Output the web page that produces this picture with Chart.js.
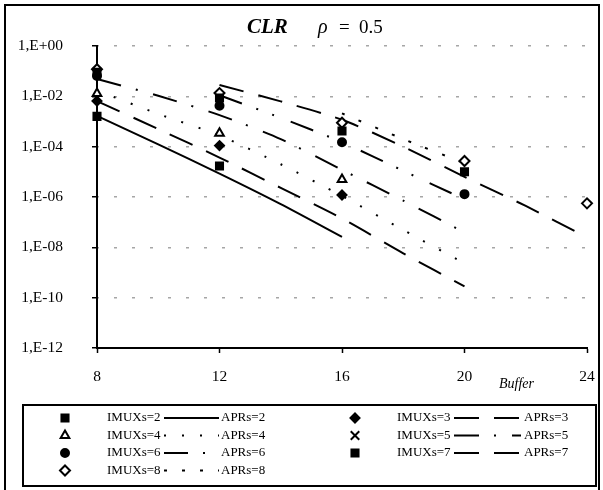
<!DOCTYPE html>
<html>
<head>
<meta charset="utf-8">
<script src="https://cdn.jsdelivr.net/npm/chart.js@4.4.1/dist/chart.umd.min.js"></script>
<style>
  html, body { margin: 0; padding: 0; background: #fff; }
</style>
</head>
<body>
<canvas id="g_clr" width="603" height="490"></canvas>
<script>
// axis ticks
var xTicks = [8, 12, 16, 20, 24];
var yTicks = [1, 1e-2, 1e-4, 1e-6, 1e-8, 1e-10, 1e-12];

// simulated points (IMUXs)
var imux2Buf = [8, 12];
var imux2Val = [1.6e-3, 1.7e-5];
var imux3Buf = [8, 12, 16];
var imux3Val = [6.5e-3, 1.1e-4, 1.2e-6];
var imux4Buf = [8, 12, 16];
var imux4Val = [1.3e-2, 3.4e-4, 5e-6];
var imux5Buf = [];
var imux5Val = [];
var imux6Buf = [8, 12, 16, 20];
var imux6Val = [6.5e-2, 4.2e-3, 1.5e-4, 1.3e-6];
var imux7Buf = [8, 12, 16, 20];
var imux7Val = [9e-2, 8.6e-3, 4.2e-4, 1.0e-5];
var imux8Buf = [8, 12, 16, 20, 24];
var imux8Val = [1.2e-1, 1.35e-2, 8.9e-4, 2.7e-5, 5.6e-7];

// analytic curves (APRs)
var apr2Buf = [8, 10, 12, 14, 16];
var apr2Val = [1.66e-3, 1.23e-4, 8.5e-6, 5.2e-7, 2.6e-8];
var apr3Buf = [8, 10, 12, 14, 16, 18, 20];
var apr3Val = [6.5e-3, 5e-4, 3.7e-5, 2.3e-6, 1.4e-7, 5.8e-9, 2.8e-10];
var apr4Buf = [8, 10, 12, 14, 16, 18, 20];
var apr4Val = [1.7e-2, 2e-3, 2.8e-4, 2e-5, 1.1e-6, 4.9e-8, 2.3e-9];
var apr5Buf = [8, 10, 12, 14, 16, 18, 20];
var apr5Val = [4.9e-2, 1.05e-2, 1.8e-3, 2e-4, 1.2e-5, 7.2e-7, 3.9e-8];
var apr6Buf = [12, 14, 16, 18, 20];
var apr6Val = [1.1e-2, 1.4e-3, 1.5e-4, 1.1e-5, 8.1e-7];
var apr7Buf = [12, 14, 16, 18, 20, 22, 24];
var apr7Val = [2.8e-2, 6.3e-3, 1.17e-3, 1e-4, 6.3e-6, 4.4e-7, 2.5e-8];
var apr8Buf = [16, 18, 20];
var apr8Val = [2.1e-3, 2e-4, 2.2e-5];

var serif = '"Liberation Serif", "Times New Roman", serif';

function pts(bufs, vals) {
    return bufs.map(function (b, i) { return { x: b, y: vals[i] }; });
}

function fmtExp(v) {
    var e = Math.round(Math.log10(v));
    var a = Math.abs(e);
    return '1,E' + (e < 0 ? '-' : '+') + (a < 10 ? '0' + a : a);
}

function marks(label, data, style, r, fill) {
    return {
        label: label, data: data, pointStyle: style, pointRadius: r,
        pointBackgroundColor: fill, pointBorderColor: '#000', pointBorderWidth: 2,
        showLine: false, clip: false
    };
}

function curve(label, data, dash, offset) {
    return {
        label: label, data: data, showLine: true, pointRadius: 0,
        borderColor: '#000', borderWidth: 2, borderDash: dash, borderDashOffset: offset || 0,
        tension: 0.25, clip: false
    };
}

var imuxSets = [
    marks('IMUXs=2', pts(imux2Buf, imux2Val), 'rect', 5, '#000'),
    marks('IMUXs=3', pts(imux3Buf, imux3Val), 'rectRot', 4.5, '#000'),
    marks('IMUXs=4', pts(imux4Buf, imux4Val), 'triangle', 5, '#fff'),
    marks('IMUXs=5', pts(imux5Buf, imux5Val), 'crossRot', 6, '#000'),
    marks('IMUXs=6', pts(imux6Buf, imux6Val), 'circle', 4, '#000'),
    marks('IMUXs=7', pts(imux7Buf, imux7Val), 'rect', 5, '#000'),
    marks('IMUXs=8', pts(imux8Buf, imux8Val), 'rectRot', 5, '#fff')
];

var aprSets = [
    curve('APRs=2', pts(apr2Buf, apr2Val), []),
    curve('APRs=3', pts(apr3Buf, apr3Val), [25, 15]),
    curve('APRs=4', pts(apr4Buf, apr4Val), [2, 16]),
    curve('APRs=5', pts(apr5Buf, apr5Val), [25, 15, 2, 16]),
    curve('APRs=6', pts(apr6Buf, apr6Val), [24, 15, 2, 15, 2, 18]),
    curve('APRs=7', pts(apr7Buf, apr7Val), [25, 15]),
    curve('APRs=8', pts(apr8Buf, apr8Val), [3, 15])
];

function drawMark(ctx, ds, x, y) {
    var r = ds.pointRadius;
    ctx.save();
    ctx.fillStyle = ds.pointBackgroundColor;
    ctx.strokeStyle = '#000';
    ctx.lineWidth = ds.pointBorderWidth;
    ctx.beginPath();
    if (ds.pointStyle == 'rect') {
        var h = r * Math.SQRT1_2;
        ctx.rect(x - h, y - h, 2 * h, 2 * h);
    } else if (ds.pointStyle == 'rectRot') {
        ctx.moveTo(x - r, y); ctx.lineTo(x, y - r); ctx.lineTo(x + r, y); ctx.lineTo(x, y + r);
        ctx.closePath();
    } else if (ds.pointStyle == 'triangle') {
        ctx.moveTo(x, y - r); ctx.lineTo(x + 0.866 * r, y + 0.5 * r); ctx.lineTo(x - 0.866 * r, y + 0.5 * r);
        ctx.closePath();
    } else if (ds.pointStyle == 'circle') {
        ctx.arc(x, y, r, 0, Math.PI * 2);
    } else {
        var c = r * Math.SQRT1_2;
        ctx.moveTo(x - c, y - c); ctx.lineTo(x + c, y + c);
        ctx.moveTo(x + c, y - c); ctx.lineTo(x - c, y + c);
    }
    ctx.fill();
    ctx.stroke();
    ctx.restore();
}

var decor = {
    id: 'decor',
    afterDraw: function (chart) {
        var ctx = chart.ctx;
        ctx.save();
        // outer frame
        ctx.strokeStyle = '#000';
        ctx.lineWidth = 2;
        ctx.strokeRect(5, 5, 594, 500);

        // title
        ctx.fillStyle = '#000';
        ctx.textBaseline = 'alphabetic';
        ctx.textAlign = 'left';
        ctx.font = 'bold italic 21px ' + serif;
        ctx.fillText('CLR', 247, 33);
        ctx.font = 'italic 20px ' + serif;
        ctx.fillText('ρ', 318, 33);
        ctx.font = '19px ' + serif;
        ctx.fillText('=', 339, 33);
        ctx.fillText('0.5', 359, 33);

        // axis name
        ctx.font = 'italic 14px ' + serif;
        ctx.fillText('Buffer', 499, 388);

        // legend
        ctx.lineWidth = 2;
        ctx.strokeRect(23, 405, 573, 81);
        var rowsY = [418, 435.5, 453, 470.5];
        var cols = [
            { mx: 65, tx: 107, l1: 164, l2: 219, ax: 221 },
            { mx: 355, tx: 397, l1: 454, l2: 521, ax: 524 }
        ];
        ctx.font = '13px ' + serif;
        ctx.textBaseline = 'middle';
        for (var i = 0; i < imuxSets.length; i++) {
            var c = cols[i % 2];
            var y = rowsY[Math.floor(i / 2)];
            drawMark(ctx, imuxSets[i], c.mx, y);
            ctx.fillStyle = '#000';
            ctx.fillText(imuxSets[i].label, c.tx, y);
            ctx.save();
            ctx.strokeStyle = '#000';
            ctx.lineWidth = 2;
            ctx.setLineDash(aprSets[i].borderDash);
            ctx.beginPath();
            ctx.moveTo(c.l1, y);
            ctx.lineTo(c.l2, y);
            ctx.stroke();
            ctx.restore();
            ctx.fillText(aprSets[i].label, c.ax, y);
        }
        ctx.restore();
    }
};

var ctx = document.getElementById('g_clr');

var grafica = new Chart(ctx, {
    type: 'scatter',
    data: {
        datasets: imuxSets.concat(aprSets)
    },
    options: {
        responsive: false,
        animation: false,
        events: [],
        layout: { padding: { top: 46, right: 16, bottom: 102, left: 0 } },
        plugins: {
            legend: { display: false },
            tooltip: { enabled: false },
            title: { display: false }
        },
        scales: {
            x: {
                type: 'linear',
                min: 8,
                max: 24,
                afterBuildTicks: function (s) {
                    s.ticks = xTicks.map(function (v) { return { value: v }; });
                },
                afterFit: function (s) { s.height = 40; },
                grid: { drawOnChartArea: false, drawTicks: true, tickLength: 5, tickColor: '#000', tickWidth: 1.5 },
                border: { display: true, color: '#000', width: 2 },
                ticks: { color: '#000', font: { family: serif, size: 15.5, lineHeight: 2.3 }, padding: 6, autoSkip: false, maxRotation: 0 }
            },
            y: {
                type: 'logarithmic',
                min: 1e-12,
                max: 1,
                afterBuildTicks: function (s) {
                    s.ticks = yTicks.map(function (v) { return { value: v }; });
                },
                afterFit: function (s) { s.width = 97; },
                grid: { display: true, color: '#a6a6a6', lineWidth: 1.5, drawTicks: true, tickLength: 5, tickColor: '#000', tickWidth: 1.5 },
                border: { display: true, color: '#000', width: 2, dash: [3, 15], dashOffset: 2 },
                ticks: {
                    color: '#000',
                    font: { family: serif, size: 15.5 },
                    padding: 29,
                    autoSkip: false,
                    callback: function (v) { return fmtExp(v); }
                }
            }
        }
    },
    plugins: [decor]
});
</script>
</body>
</html>
